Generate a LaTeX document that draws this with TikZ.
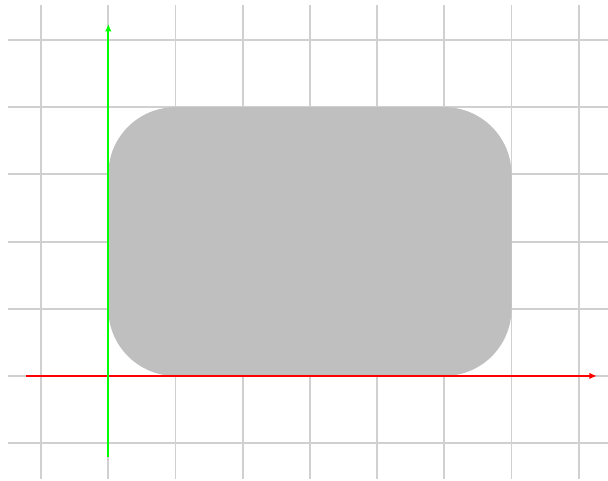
\documentclass[tikz,border=0pt]{standalone}
\usetikzlibrary{arrows.meta}
\begin{document}
\begin{tikzpicture}[
  gridline/.style={draw={rgb,255:red,208;green,208;blue,208}, line width=0.8pt},
  axisline/.style={line width=0.8pt, -{Latex[length=3.2pt,width=2.8pt]}},
  shapefill/.style={fill=lightgray, rounded corners=1cm}
]
\useasboundingbox (-1.612,-1.563) rectangle (7.436,5.595);
\draw[gridline] (-1.49,-1.53) grid (7.5,5.52);
\fill[shapefill] (0,0) rectangle (6,4);
\coordinate (xs) at (-1.22,0);
\coordinate (xe) at (7.27,0);
\coordinate (ys) at (0,-1.2);
\coordinate (ye) at (0,5.24);
\draw[axisline, red] (xs) -- (xe);
\draw[axisline, green] (ys) -- (ye);
\end{tikzpicture}
\end{document}
